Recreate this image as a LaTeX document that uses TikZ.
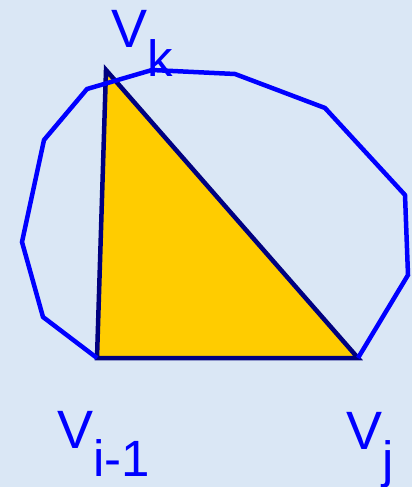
\documentclass[tikz,border=0pt]{standalone}
\usepackage{fontspec}
\setmainfont{Liberation Sans}
\definecolor{bgblue}{HTML}{DAE7F5}
\definecolor{polyblue}{HTML}{0000FF}
\definecolor{trinavy}{HTML}{000080}
\definecolor{triyellow}{HTML}{FFCC00}
\newcommand{\vlabel}[2]{{\fontsize{54}{54}\selectfont #1}\raisebox{-28.5pt}{\fontsize{51}{51}\selectfont #2}}
\begin{document}
\begin{tikzpicture}[x=1pt,y=-1pt,
  polyline/.style={draw=polyblue,line width=4.5pt,line join=miter},
  triface/.style={fill=triyellow,draw=trinavy,line width=4.5pt,line join=miter},
  vlab/.style={text=polyblue,inner sep=0pt,anchor=base west}]
\fill[bgblue] (0,0) rectangle (412,487);
\useasboundingbox (0,0) rectangle (412,487);
% polygon vertices
\coordinate (vi) at (97,358);
\coordinate (vj) at (358,358);
\coordinate (vk) at (106,70);
\coordinate (p1) at (408,275);
\coordinate (p2) at (405,195);
\coordinate (p3) at (325,108);
\coordinate (p4) at (235,74);
\coordinate (p5) at (152,70);
\coordinate (p6) at (87,89);
\coordinate (p7) at (44,140);
\coordinate (p8) at (22,242);
\coordinate (p9) at (43,317);
% triangle
\path[triface] (vi) -- (vk) -- (vj) -- cycle;
% polygon (bottom edge covered by triangle)
\draw[polyline] (vj) -- (p1) -- (p2) -- (p3) -- (p4) -- (p5) -- (p6) -- (p7) -- (p8) -- (p9) -- (vi);
% labels
\node[vlab] (lk) at (111,48) {\vlabel{V}{k}};
\node[vlab] (li) at (57,448) {\vlabel{V}{i-1}};
\node[vlab] (lj) at (346,449) {\vlabel{V}{j}};
\end{tikzpicture}
\end{document}
